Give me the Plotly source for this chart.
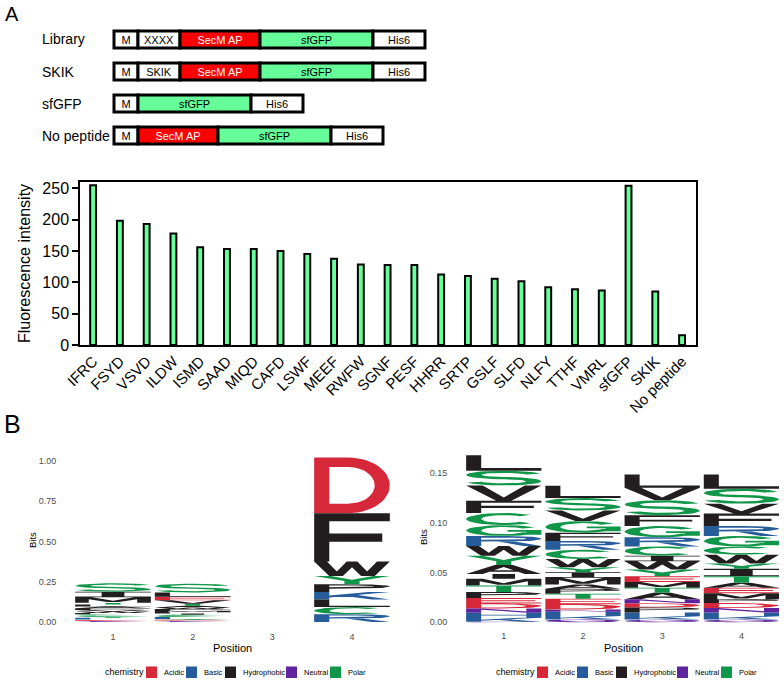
import numpy as np
import plotly.graph_objects as go

W, H = 784, 680
FONT = "Arial, Liberation Sans, sans-serif"

# ---------------- Panel A: construct diagrams ----------------
construct_names = ["Library", "SKIK", "sfGFP", "No peptide"]
construct_parts = [
    ["M", "XXXX", "SecM AP", "sfGFP", "His6"],
    ["M", "SKIK", "SecM AP", "sfGFP", "His6"],
    ["M", "sfGFP", "His6"],
    ["M", "SecM AP", "sfGFP", "His6"],
]
part_names = ["M", "XXXX", "SKIK", "SecM AP", "sfGFP", "His6"]
part_lengths = [24, 42, 42, 80, 113, 52]
part_fill = ["white", "white", "white", "#FF0000", "#66FF99", "white"]
part_textcolor = ["black", "black", "black", "white", "black", "black"]

# ---------------- Panel A: fluorescence bar chart ----------------
bar_labels = ["IFRC", "FSYD", "VSVD", "ILDW", "ISMD", "SAAD", "MIQD", "CAFD", "LSWF",
              "MEEF", "RWFW", "SGNF", "PESF", "HHRR", "SRTP", "GSLF", "SLFD", "NLFY",
              "TTHF", "VMRL", "sfGFP", "SKIK", "No peptide"]
bar_values = [255, 198, 193, 178, 156, 153, 153, 150, 145, 137.5, 128.5, 127.5, 127.5,
              112.5, 110, 105.5, 101.5, 92, 89, 87, 254, 85.5, 15.5]
y_ticks_bar = [0, 50, 100, 150, 200, 250]

# ---------------- Panel B: sequence logos ----------------
chem_names = ["Acidic", "Basic", "Hydrophobic", "Neutral", "Polar"]
chem_colors = ["#D62839", "#255C99", "#221E1F", "#5E239D", "#109648"]
chem_members = ["DE", "KRH", "AVLIPWFM", "QN", "GSTYC"]

logo_positions = [1, 2, 3, 4]

# left logo (letters listed top -> bottom, heights in bits)
left_letters = [
    "S I M T L A F V W P C G Y R K H E D N Q".split(),
    "S L E V T A W F M P I G C R K Y D H N Q".split(),
    [],
    "D F W Y P K L C R".split(),
]
left_bits = [
    [0.052, 0.035, 0.033, 0.012, 0.012, 0.011, 0.010, 0.010, 0.009, 0.008,
     0.008, 0.007, 0.006, 0.006, 0.005, 0.004, 0.004, 0.003, 0.003, 0.002],
    [0.055, 0.026, 0.022, 0.022, 0.012, 0.011, 0.010, 0.010, 0.009, 0.008,
     0.008, 0.007, 0.007, 0.006, 0.006, 0.005, 0.005, 0.004, 0.003, 0.002],
    [],
    [0.345, 0.300, 0.090, 0.052, 0.048, 0.046, 0.047, 0.045, 0.048],
]
left_y_ticks = [0, 0.25, 0.5, 0.75, 1.0]

# right logo
right_letters = [
    "L S V F C G R W Y A I M T P E D N H K Q".split(),
    "L S V G F R C W Y I M A P T E D N H K Q".split(),
    "L V S F G R C I W Y E M T A N D P H K Q".split(),
    "L S V F R G C W Y I T A E M P D N H K Q".split(),
]
right_bits = [
    [0.0155, 0.0149, 0.0152, 0.0122, 0.0122, 0.0109, 0.0099, 0.0099, 0.0092, 0.0090,
     0.0049, 0.0066, 0.0066, 0.0059, 0.0056, 0.0049, 0.0043, 0.0050, 0.0040, 0.0006],
    [0.0122, 0.0125, 0.0106, 0.0116, 0.0082, 0.0089, 0.0092, 0.0083, 0.0049, 0.0056,
     0.0067, 0.0043, 0.0049, 0.0050, 0.0056, 0.0053, 0.0023, 0.0043, 0.0033, 0.0029],
    [0.0132, 0.0125, 0.0149, 0.0109, 0.0112, 0.0092, 0.0093, 0.0056, 0.0083, 0.0066,
     0.0059, 0.0056, 0.0050, 0.0067, 0.0040, 0.0042, 0.0049, 0.0039, 0.0033, 0.0027],
    [0.0142, 0.0149, 0.0099, 0.0125, 0.0099, 0.0105, 0.0083, 0.0089, 0.0053, 0.0073,
     0.0066, 0.0049, 0.0056, 0.0059, 0.0040, 0.0050, 0.0043, 0.0039, 0.0033, 0.0027],
]
right_y_ticks = [0, 0.05, 0.10, 0.15]


# ---------------- glyph outlines (unit box) ----------------
def ell(cx, cy, rx, ry, a0, a1, n=28):
    t = np.radians(np.linspace(a0, a1, n))
    return [(cx + rx * np.cos(a), cy + ry * np.sin(a)) for a in t]


def band(cx, cy, rx, ry, w, h, a0, a1, n=28):
    return ell(cx, cy, rx, ry, a0, a1, n) + ell(cx, cy, rx - w, ry - h, a1, a0, n)


def rect(x0, y0, x1, y1):
    return [(x0, y0), (x1, y0), (x1, y1), (x0, y1)]


SW, SH = 0.2, 0.17


def bowl_outer(cy, ry):
    return [(0.2, cy + ry), (0.55, cy + ry)] + ell(0.55, cy, 0.45, ry, 90, -90) + [(0.2, cy - ry)]


def bowl_hole(cy, ry):
    return [(0.2, cy + ry), (0.55, cy + ry)] + ell(0.55, cy, 0.25, ry, 90, -90) + [(0.2, cy - ry)]


ry_s = (1 + 0.15) / 4
GLYPHS = {
    "A": ([[(0, 0), (0.38, 1), (0.62, 1), (1, 0), (0.78, 0), (0.69, 0.25), (0.31, 0.25), (0.22, 0)]],
          [[(0.37, 0.41), (0.63, 0.41), (0.5, 0.78)]]),
    "C": ([band(0.5, 0.5, 0.5, 0.5, SW, SH, 45, 315)], []),
    "D": ([[(0, 0), (0, 1), (0.45, 1)] + ell(0.45, 0.5, 0.55, 0.5, 90, -90) + [(0.45, 0)]],
          [[(0.2, 0.17), (0.2, 0.83), (0.45, 0.83)] + ell(0.45, 0.5, 0.35, 0.33, 90, -90) + [(0.45, 0.17)]]),
    "E": ([[(0, 0), (0, 1), (1, 1), (1, 0.83), (0.2, 0.83), (0.2, 0.59), (0.92, 0.59),
            (0.92, 0.42), (0.2, 0.42), (0.2, 0.17), (1, 0.17), (1, 0)]], []),
    "F": ([[(0, 0), (0, 1), (1, 1), (1, 0.83), (0.2, 0.83), (0.2, 0.58), (0.9, 0.58),
            (0.9, 0.41), (0.2, 0.41), (0.2, 0)]], []),
    "G": ([band(0.5, 0.5, 0.5, 0.5, SW, SH, 35, 330), rect(0.55, 0.38, 1.0, 0.54),
           rect(0.8, 0.12, 1.0, 0.54)], []),
    "H": ([rect(0, 0, 0.2, 1), rect(0.8, 0, 1, 1), rect(0.2, 0.42, 0.8, 0.58)], []),
    "I": ([rect(0, 0.86, 1, 1), rect(0.35, 0, 0.65, 1), rect(0, 0, 1, 0.14)], []),
    "K": ([rect(0, 0, 0.2, 1), [(0.2, 0.25), (1.0, 1.0), (0.72, 1.0), (0.2, 0.52)],
           [(0.38, 0.5), (0.76, 0.0), (1.0, 0.0), (0.55, 0.62)]], []),
    "L": ([[(0, 0), (0, 1), (0.2, 1), (0.2, 0.17), (1, 0.17), (1, 0)]], []),
    "M": ([[(0, 0), (0, 1), (0.22, 1), (0.5, 0.35), (0.78, 1), (1, 1), (1, 0), (0.82, 0),
            (0.82, 0.65), (0.58, 0.12), (0.42, 0.12), (0.18, 0.65), (0.18, 0)]], []),
    "N": ([[(0, 0), (0, 1), (0.2, 1), (0.8, 0.3), (0.8, 1), (1, 1), (1, 0), (0.8, 0),
            (0.2, 0.7), (0.2, 0)]], []),
    "P": ([rect(0, 0, 0.2, 1), bowl_outer(0.72, 0.28)], [bowl_hole(0.72, 0.11)]),
    "Q": ([band(0.5, 0.5, 0.5, 0.5, SW, SH, 0, 360, 40),
           [(0.55, 0.3), (0.8, 0.0), (1.0, 0.0), (0.75, 0.3)]], []),
    "R": ([rect(0, 0, 0.2, 1), bowl_outer(0.72, 0.28),
           [(0.42, 0.44), (0.76, 0.0), (1.0, 0.0), (0.64, 0.44)]], [bowl_hole(0.72, 0.11)]),
    "S": ([band(0.5, 1 - ry_s, 0.5, ry_s, SW, 0.15, 15, 270),
           band(0.5, ry_s, 0.5, ry_s, SW, 0.15, 90, -165)], []),
    "T": ([rect(0, 0.83, 1, 1), rect(0.4, 0, 0.6, 0.83)], []),
    "V": ([[(0, 1), (0.22, 1), (0.5, 0.22), (0.78, 1), (1, 1), (0.6, 0), (0.4, 0)]], []),
    "W": ([[(0, 1), (0.17, 1), (0.3, 0.3), (0.43, 1), (0.57, 1), (0.7, 0.3), (0.83, 1),
            (1, 1), (0.8, 0), (0.62, 0), (0.5, 0.6), (0.38, 0), (0.2, 0)]], []),
    "Y": ([[(0, 1), (0.22, 1), (0.5, 0.55), (0.78, 1), (1, 1), (0.6, 0.4), (0.6, 0),
            (0.4, 0), (0.4, 0.4)]], []),
}


def ccw(poly):
    a = 0.0
    for i in range(len(poly)):
        x1, y1 = poly[i]
        x2, y2 = poly[(i + 1) % len(poly)]
        a += x1 * y2 - x2 * y1
    return poly if a >= 0 else poly[::-1]


def chem_of(letter):
    for name, mem in zip(chem_names, chem_members):
        if letter in mem:
            return name
    return "Hydrophobic"


def logo_traces(letters_list, bits_list, xa, ya):
    groups = {c: ([], []) for c in chem_names}
    hx, hy = [], []
    half = 0.475
    for pos, letters, bits in zip(logo_positions, letters_list, bits_list):
        y0 = 0.0
        for L, h in reversed(list(zip(letters, bits))):
            if h <= 0:
                continue
            solids, holes = GLYPHS[L]
            gx, gy = groups[chem_of(L)]
            for poly in solids:
                p = ccw(poly)
                p = p + [p[0]]
                gx.extend([pos - half + 2 * half * u for u, v in p] + [None])
                gy.extend([y0 + h * v for u, v in p] + [None])
            for poly in holes:
                p = ccw(poly)
                p = p + [p[0]]
                hx.extend([pos - half + 2 * half * u for u, v in p] + [None])
                hy.extend([y0 + h * v for u, v in p] + [None])
            y0 += h
    out = []
    for c, col in zip(chem_names, chem_colors):
        xs, ys = groups[c]
        if not xs:
            continue
        out.append(go.Scatter(x=xs, y=ys, mode="lines", fill="toself", fillcolor=col,
                              line=dict(width=0, color=col), hoverinfo="skip",
                              showlegend=False, xaxis=xa, yaxis=ya))
    if hx:
        out.append(go.Scatter(x=hx, y=hy, mode="lines", fill="toself", fillcolor="white",
                              line=dict(width=0, color="white"), hoverinfo="skip",
                              showlegend=False, xaxis=xa, yaxis=ya))
    return out


def px(x):
    return x / W


def py(y):
    return 1 - y / H


fig = go.Figure()

# constructs as horizontal stacked segments
cy, cx, cb, cfill, ctext, ctc = [], [], [], [], [], []
for name, parts in zip(construct_names, construct_parts):
    start = 0
    for p in parts:
        i = part_names.index(p)
        cy.append(name)
        cx.append(part_lengths[i])
        cb.append(start)
        cfill.append(part_fill[i])
        ctext.append(p)
        ctc.append(part_textcolor[i])
        start += part_lengths[i]
fig.add_trace(go.Bar(
    y=cy, x=cx, base=cb, orientation="h", width=0.53,
    marker=dict(color=cfill, line=dict(color="black", width=3)),
    text=ctext, textposition="inside", insidetextanchor="middle", textangle=0,
    constraintext="none", textfont=dict(size=11, color=ctc, family=FONT),
    hoverinfo="skip", showlegend=False, xaxis="x", yaxis="y"))

# fluorescence bars
fig.add_trace(go.Bar(
    x=bar_labels, y=bar_values, width=0.22,
    marker=dict(color="#66FF99", line=dict(color="black", width=2)),
    showlegend=False, xaxis="x2", yaxis="y2"))

for t in logo_traces(left_letters, left_bits, "x3", "y3"):
    fig.add_trace(t)
for t in logo_traces(right_letters, right_bits, "x4", "y4"):
    fig.add_trace(t)

ann = []
# construct labels
for name in construct_names:
    ann.append(dict(text=name, x=px(40), xref="paper", y=name, yref="y", xanchor="left",
                    yanchor="middle", showarrow=False, font=dict(size=14, color="black")))
ann.append(dict(text="A", x=px(3), y=py(14), xref="paper", yref="paper", xanchor="left",
                yanchor="middle", showarrow=False, font=dict(size=20, color="black")))
ann.append(dict(text="B", x=px(2), y=py(424), xref="paper", yref="paper", xanchor="left",
                yanchor="middle", showarrow=False, font=dict(size=25, color="black")))

# logo axis titles
for cxp, bx, by in [(232, 32, 540), (623, 423, 537)]:
    ann.append(dict(text="Position", x=px(cxp), y=py(648), xref="paper", yref="paper",
                    xanchor="center", yanchor="middle",
                    showarrow=False, font=dict(size=11, color="black")))
    ann.append(dict(text="Bits", x=px(bx), y=py(by), xref="paper", yref="paper",
                    xanchor="center", yanchor="middle",
                    textangle=-90, showarrow=False, font=dict(size=9.5, color="black")))

# legends
shapes = []
sq_off = [43, 83, 122, 183, 227]
tx_off = [59, 99, 138, 199, 243]
for x0 in [103, 494]:
    ann.append(dict(text="chemistry", x=px(x0), y=py(672), xref="paper", yref="paper",
                    xanchor="left", yanchor="middle", showarrow=False,
                    font=dict(size=9, color="black")))
    for name, col, so, to in zip(chem_names, chem_colors, sq_off, tx_off):
        shapes.append(dict(type="rect", xref="paper", yref="paper",
                           x0=px(x0 + so), x1=px(x0 + so + 11), y0=py(678), y1=py(666.5),
                           fillcolor=col, line=dict(width=0)))
        ann.append(dict(text=name, x=px(x0 + to), y=py(672), xref="paper", yref="paper",
                        xanchor="left", yanchor="middle", showarrow=False,
                        font=dict(size=7.5, color="black")))

logo_tick_font = dict(size=9, color="#4D4D4D")

fig.update_layout(
    width=W, height=H, margin=dict(l=0, r=0, t=0, b=0, autoexpand=False),
    paper_bgcolor="white", plot_bgcolor="white",
    font=dict(family=FONT, color="black"),
    barmode="overlay", showlegend=False,
    annotations=ann, shapes=shapes,
    xaxis=dict(domain=[0, 1], range=[-114, 670], visible=False, automargin=False),
    yaxis=dict(domain=[py(151.5), py(23.5)], type="category",
               categoryorder="array", categoryarray=construct_names,
               range=[3.5, -0.5], visible=False, automargin=False),
    xaxis2=dict(domain=[px(80), px(696)], anchor="y2", range=[-0.49, 22.52],
                type="category", tickangle=-45, tickfont=dict(size=15, color="black"),
                showline=True, mirror=True, linecolor="black", linewidth=1.5,
                ticks="", showgrid=False, zeroline=False, automargin=False),
    yaxis2=dict(domain=[py(345), py(182)], anchor="x2", range=[0, 260],
                tickvals=y_ticks_bar, tickfont=dict(size=16, color="black"),
                ticks="outside", ticklen=6, tickwidth=1.5, tickcolor="black",
                showline=True, mirror=True, linecolor="black", linewidth=1.5,
                showgrid=False, zeroline=False, automargin=False,
                title=dict(text="Fluorescence intensity", font=dict(size=16, color="black"),
                           standoff=8)),
    xaxis3=dict(domain=[px(65.2), px(399.8)], anchor="y3", range=[0.4, 4.6],
                tickvals=logo_positions, tickfont=logo_tick_font, ticks="",
                ticklabelstandoff=5, showgrid=False, zeroline=False, showline=False,
                automargin=False),
    yaxis3=dict(domain=[py(625.2), py(451.3)], anchor="x3", range=[-0.02, 1.06],
                tickvals=left_y_ticks, tickformat=".2f", tickfont=logo_tick_font,
                ticks="", ticklabelstandoff=8, showgrid=False, zeroline=False, showline=False,
                automargin=False),
    xaxis4=dict(domain=[px(460.2), px(782.6)], anchor="y4", range=[0.45, 4.52],
                tickvals=logo_positions, tickfont=logo_tick_font, ticks="",
                ticklabelstandoff=5, showgrid=False, zeroline=False, showline=False,
                automargin=False),
    yaxis4=dict(domain=[py(624.3), py(450.5)], anchor="x4", range=[-0.002, 0.172],
                tickvals=right_y_ticks, tickformat=".2f", tickfont=logo_tick_font,
                ticks="", ticklabelstandoff=12, showgrid=False, zeroline=False, showline=False,
                automargin=False),
)

fig.write_html("out.html")
